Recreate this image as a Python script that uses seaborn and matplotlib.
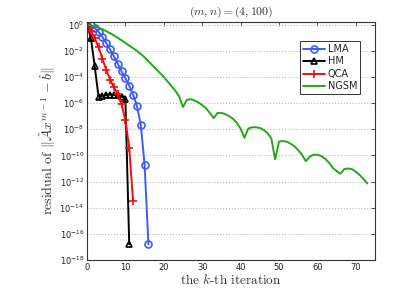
import numpy as np
import pandas as pd
import matplotlib
matplotlib.use("Agg")
import matplotlib.pyplot as plt
import matplotlib.ticker as mticker
import seaborn as sns

# log10 of the residual
lma_log = [0, -0.05, -0.25, -0.55, -0.95, -1.4, -1.9, -2.42, -2.99, -3.56,
           -4.1, -4.66, -5.36, -6.2, -7.65, -10.7, -16.8]
hm_log = [0, -1.0, -3.15, -5.5, -5.45, -5.4, -5.35, -5.38, -5.42, -5.5,
          -5.7, -16.8]
qca_log = [0, -0.45, -1.05, -1.7, -2.6, -3.45, -4.2, -4.8, -5.3, -6.1,
           -7.3, -9.4, -13.5]
ngsm_log = [0, -0.05, -0.13, -0.23, -0.35, -0.5, -0.65, -0.82, -1.0, -1.2,
            -1.4, -1.6, -1.8, -2.0, -2.25, -2.5, -2.8, -3.1, -3.4, -3.7,
            -4.0, -4.35, -4.7, -5.05, -5.5, -6.3, -5.75, -5.7, -5.8, -5.95,
            -6.15, -6.4, -6.75, -7.15, -6.75, -6.75, -6.85, -7.0, -7.2, -7.5,
            -7.95, -8.65, -7.95, -7.85, -7.85, -7.9, -8.05, -8.3, -8.7, -10.3,
            -8.95, -8.9, -8.95, -9.1, -9.3, -9.6, -9.95, -10.45, -10.1, -9.95,
            -9.95, -10.05, -10.25, -10.55, -10.95, -11.2, -11.4, -11.05, -11.0, -11.05,
            -11.25, -11.5, -11.8, -12.15]

methods = ["LMA", "HM", "QCA", "NGSM"]
colors = {"LMA": "#3b5bff", "HM": "#000000", "QCA": "#ff0a0a", "NGSM": "#22aa14"}
xticks = [0, 10, 20, 30, 40, 50, 60, 70]
yexp = list(range(0, -19, -2))

frames = []
for name, vals in zip(methods, [lma_log, hm_log, qca_log, ngsm_log]):
    frames.append(pd.DataFrame({"k": np.arange(len(vals)),
                                "res": 10.0 ** np.array(vals),
                                "method": name}))
df = pd.concat(frames, ignore_index=True)

sns.set_style("white")
fig = plt.figure(figsize=(4.15, 2.93), dpi=100)
ax = fig.add_axes([0.2096, 0.1126, 0.694, 0.8123])

mk = {
    "LMA": dict(marker="o", markersize=5, markerfacecolor="none",
                markeredgewidth=1.2),
    "HM": dict(marker="^", markersize=5, markerfacecolor="none",
               markeredgewidth=1.2),
    "QCA": dict(marker="+", markersize=6, markeredgewidth=1.2),
    "NGSM": dict(),
}
for name in methods:
    sub = df[df["method"] == name]
    sns.lineplot(data=sub, x="k", y="res", ax=ax, color=colors[name],
                 label=name, linewidth=1.4, markeredgecolor=colors[name],
                 **mk[name])

ax.set_yscale("log")
ax.set_xlim(0, 75)
ax.set_ylim(1e-18, 10 ** 0.2)
ax.set_xticks(xticks)
ax.yaxis.set_major_locator(mticker.FixedLocator([10.0 ** e for e in yexp]))
ax.yaxis.set_minor_locator(mticker.NullLocator())
ax.yaxis.set_major_formatter(mticker.FuncFormatter(
    lambda v, p: r"$10^{%d}$" % round(np.log10(v))))
ax.tick_params(direction="in", length=3, width=0.6, labelsize=6, pad=2,
               top=True, right=True, colors="#333333", labelcolor="#222222")
ax.yaxis.grid(True, linestyle=":", color="#bbbbbb", linewidth=0.8)
ax.xaxis.grid(False)
for s in ax.spines.values():
    s.set_color("#333333")
    s.set_linewidth(0.8)

ax.set_title(r"$(m,n) = (4,100)$", fontsize=8.5, math_fontfamily="cm",
             color="#333333", pad=5)
ax.set_xlabel(r"the $k$-th iteration", fontsize=9.5, fontfamily="cmr10",
              math_fontfamily="cm", color="#333333", labelpad=1)
ax.set_ylabel(r"residual of $\|\hat{\mathcal{A}}x^{m-1}-\hat{b}\|$",
              fontsize=10, fontfamily="cmr10", math_fontfamily="cm",
              color="#333333", labelpad=1)

leg = ax.legend(loc="upper right", bbox_to_anchor=(0.965, 0.94), fontsize=7,
                frameon=True, fancybox=False, edgecolor="#333333",
                framealpha=1, handlelength=2.2, borderpad=0.3,
                labelspacing=0.25, handletextpad=0.3)
leg.get_frame().set_linewidth(0.7)

fig.savefig("out.png", dpi=100)
